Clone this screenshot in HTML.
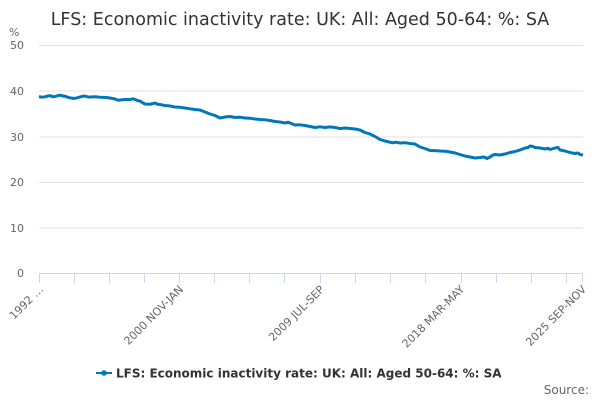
<!DOCTYPE html>
<html><head><meta charset="utf-8"><style>
body{margin:0;background:#fff;width:600px;height:400px;overflow:hidden}
svg{font-family:"DejaVu Sans","Liberation Sans",sans-serif}
</style></head><body>
<svg width="600" height="400" xmlns="http://www.w3.org/2000/svg">
<text x="300" y="25" text-anchor="middle" font-size="17.5" fill="#333">LFS: Economic inactivity rate: UK: All: Aged 50-64: %: SA</text>
<text x="9" y="36" font-size="11" fill="#666">%</text>
<g stroke="#e0e0e0" stroke-width="1">
<line x1="39" y1="45.5" x2="583" y2="45.5"/>
<line x1="39" y1="91" x2="583" y2="91"/>
<line x1="39" y1="137" x2="583" y2="137"/>
<line x1="39" y1="182.5" x2="583" y2="182.5"/>
<line x1="39" y1="228" x2="583" y2="228"/>
</g>
<line x1="39" y1="273.5" x2="583" y2="273.5" stroke="#ccd6eb"/>
<g stroke="#ccd6eb">
<line x1="39.5" y1="273.5" x2="39.5" y2="283"/><line x1="74.5" y1="273.5" x2="74.5" y2="283"/><line x1="109.5" y1="273.5" x2="109.5" y2="283"/><line x1="144.5" y1="273.5" x2="144.5" y2="283"/><line x1="179.5" y1="273.5" x2="179.5" y2="283"/><line x1="214.5" y1="273.5" x2="214.5" y2="283"/><line x1="249.5" y1="273.5" x2="249.5" y2="283"/><line x1="284.5" y1="273.5" x2="284.5" y2="283"/><line x1="320.5" y1="273.5" x2="320.5" y2="283"/><line x1="355.5" y1="273.5" x2="355.5" y2="283"/><line x1="390.5" y1="273.5" x2="390.5" y2="283"/><line x1="425.5" y1="273.5" x2="425.5" y2="283"/><line x1="461.5" y1="273.5" x2="461.5" y2="283"/><line x1="496.5" y1="273.5" x2="496.5" y2="283"/><line x1="531.5" y1="273.5" x2="531.5" y2="283"/><line x1="566.5" y1="273.5" x2="566.5" y2="283"/><line x1="582.5" y1="273.5" x2="582.5" y2="283"/>
</g>
<g font-size="11" fill="#666" text-anchor="end">
<text x="24" y="49">50</text><text x="24" y="95">40</text><text x="24" y="141">30</text><text x="24" y="186">20</text><text x="24" y="232">10</text><text x="24" y="277">0</text>
</g>
<g font-size="11" fill="#666" text-anchor="end">
<text transform="translate(44,290) rotate(-45)">1992 …</text>
<text transform="translate(184,290) rotate(-45)">2000 NOV-JAN</text>
<text transform="translate(325,290) rotate(-45)">2009 JUL-SEP</text>
<text transform="translate(465,290) rotate(-45)">2018 MAR-MAY</text>
<text transform="translate(587,290) rotate(-45)">2025 SEP-NOV</text>
</g>
<polyline fill="none" stroke="#0077bb" stroke-width="3" stroke-linejoin="round" points="39,96.6 42,97.2 45,96.8 48,96 50,95.6 53,96.8 55,96.5 58,95.6 60,95.2 63,96 65,96.2 68,97.3 70,97.8 73,98.4 75,98.3 78,97.6 80,97 83,96.2 85,96 88,97 90,97 95,96.8 100,97.3 105,97.4 110,98 115,99 118,100.2 120,100 125,99.5 130,99.5 133,98.8 135,99.5 138,100.8 140,101 143,103 145,104 150,104.3 155,103 158,104.4 160,104.5 165,105.5 170,106 175,107 180,107.3 185,108 190,108.8 195,109.5 200,110 205,112 210,114 215,115.5 220,118 225,117 230,116.5 235,117.5 240,117.2 245,118 250,118.2 255,119 260,119.5 265,119.8 270,120.5 275,121.5 280,122 285,123 288,122.2 290,123 295,125 300,124.8 305,125.5 310,126.5 315,127.5 320,126.8 325,127.5 330,126.9 335,127.5 340,128.5 345,128 350,128.5 355,129 360,130 365,132.5 370,134 375,136.5 380,139.5 385,141 392,142.7 396,142.2 400,143 405,142.7 410,143.5 415,144 420,147 425,148.5 430,150.5 435,150.6 440,151 445,151.2 450,152 455,153 460,154.5 465,156 470,157 475,158 480,157.5 484,157 487,158.5 490,157 493,155 495,154.5 500,155 505,154 510,152.5 515,151.5 520,150 525,148 528,147.5 530,146 533,146.5 535,147.5 540,148 545,149 548,148.2 550,149.5 555,148 558,147.5 560,150 565,151 570,152.5 575,153.5 578,153 580,154.5 583,155"/>
<line x1="96" y1="373" x2="112" y2="373" stroke="#0077bb" stroke-width="2"/>
<circle cx="104" cy="373" r="2.8" fill="#0077bb"/>
<text x="116" y="377.5" font-size="12" font-weight="bold" fill="#333">LFS: Economic inactivity rate: UK: All: Aged 50-64: %: SA</text>
<text x="589" y="394" font-size="12" fill="#666" text-anchor="end">Source:</text>
</svg>
</body></html>
